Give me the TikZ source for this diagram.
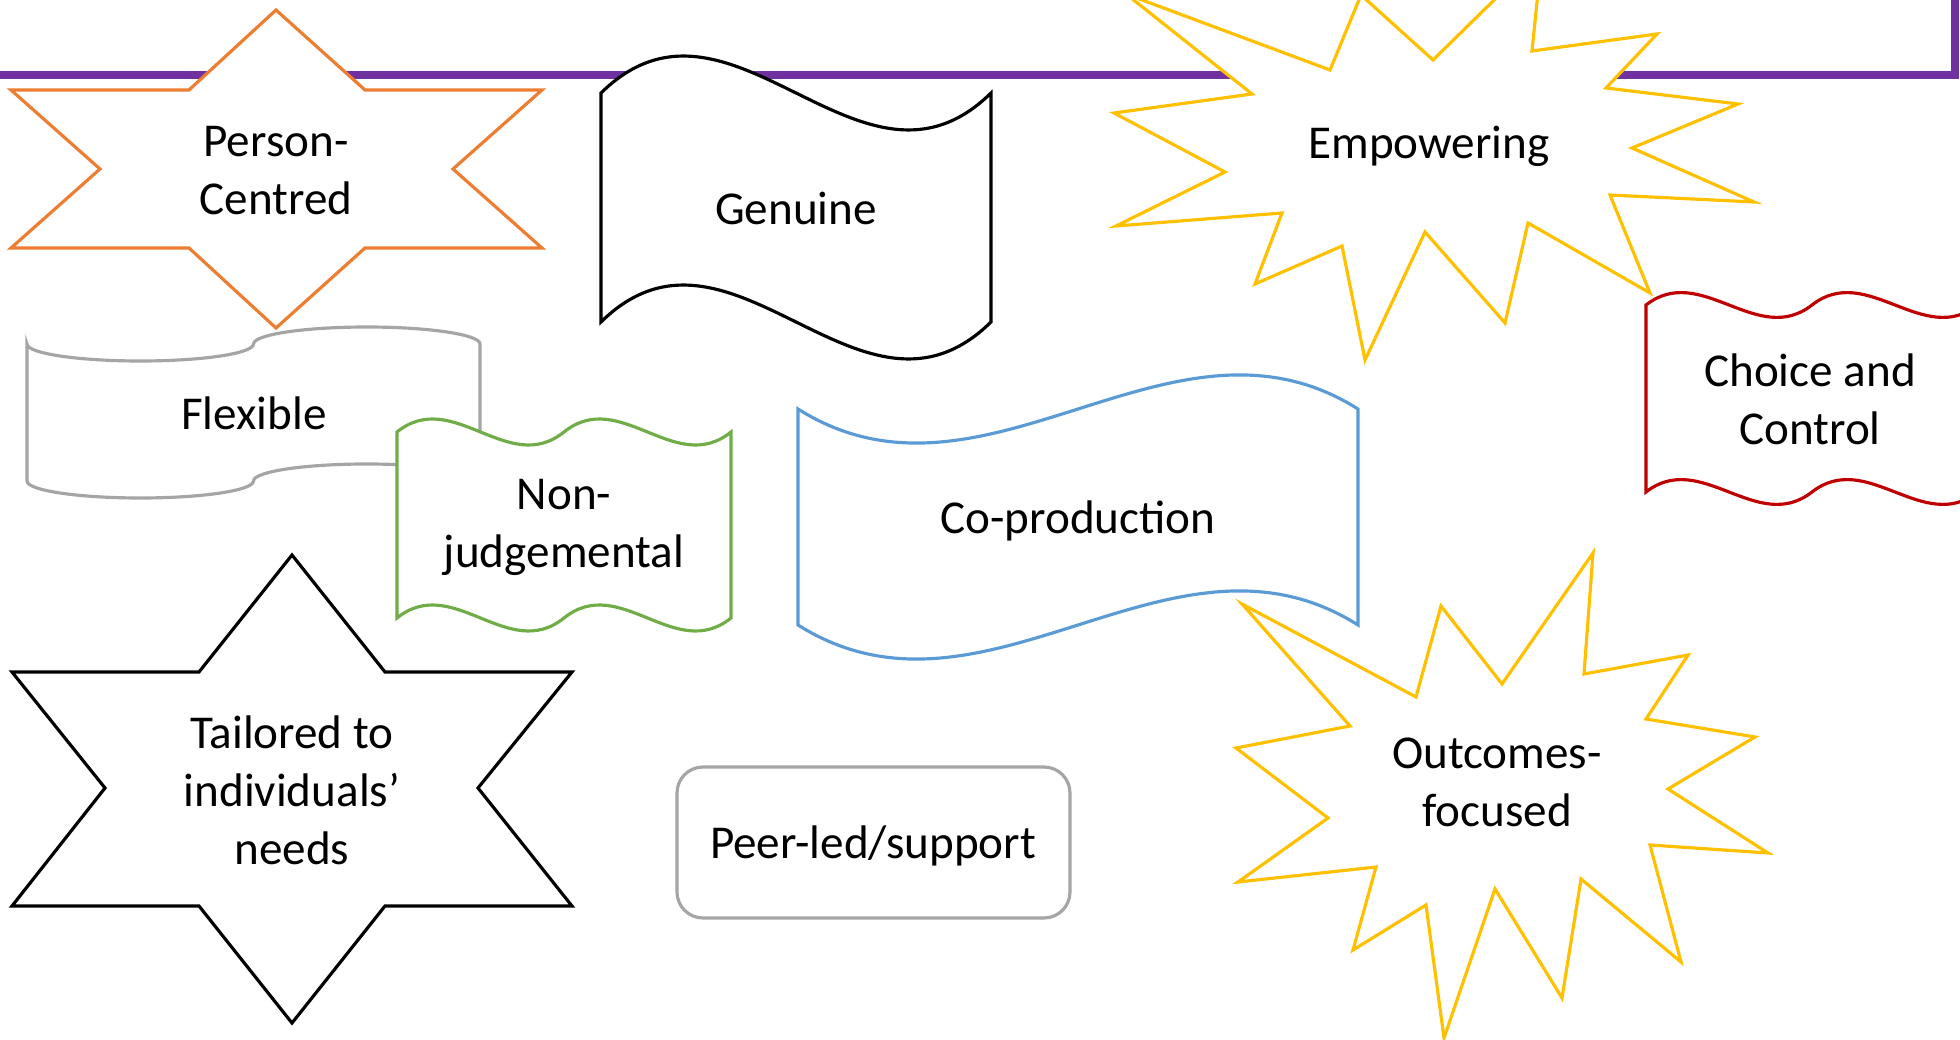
\documentclass[tikz,border=0pt]{standalone}
\usepackage{fontspec}
\setmainfont{Carlito}
\usepackage{tikz}
\definecolor{ppPurple}{HTML}{7030A0}
\definecolor{ppOrange}{HTML}{ED7D31}
\definecolor{ppYellow}{HTML}{FFC000}
\definecolor{ppRed}{HTML}{C00000}
\definecolor{ppGreen}{HTML}{70AD47}
\definecolor{ppBlue}{HTML}{5B9BD5}
\definecolor{ppGray}{HTML}{A5A5A5}
\tikzset{
  themeshape/.style={line width=0.9pt, fill=white},
  theme/.style={font=\fontsize{13.4}{16.5}\selectfont, align=center, inner sep=0pt},
}

\begin{document}
\begin{tikzpicture}[x=0.01cm, y=-0.01cm]
  \useasboundingbox (0,0) rectangle (1960,1040);
  % title frame
  \draw[ppPurple, line width=2.2pt] (-20,75) -- (1955,75) -- (1955,-20);
  % person-centred: 6-point star
  \draw[themeshape, draw=ppOrange] (276,10) -- (365,90) -- (542,90) -- (453,169) -- (542,248)
    -- (365,248) -- (276,328) -- (189,248) -- (11,248) -- (100,169) -- (11,90) -- (189,90) -- cycle;
  \node[theme] (person) at (276,171) {Person-\\Centred};
  % genuine: wave
  \draw[themeshape, draw=black] (601,93) .. controls (731,-35) and (861,221) .. (991,93)
    -- (991,322) .. controls (861,450) and (731,194) .. (601,322) -- cycle;
  \node[theme] (genuine) at (796,208) {Genuine};
  % empowering: explosion
  \draw[themeshape, draw=ppYellow] (1126,-6) -- (1330,70) -- (1361,-5) -- (1433,60) -- (1542,-47)
    -- (1532,51) -- (1657,34) -- (1606,88) -- (1738,104) -- (1632,148) -- (1754,202)
    -- (1610,195) -- (1650,293) -- (1528,223) -- (1505,323) -- (1425,232) -- (1365,360)
    -- (1342,246) -- (1255,284) -- (1282,213) -- (1116,226) -- (1225,172) -- (1114,113)
    -- (1252,94) -- cycle;
  \node[theme] (empower) at (1429,146) {Empowering};
  % choice and control: double wave
  \draw[themeshape, draw=ppRed] (1646,305) .. controls (1701,262) and (1757,348) .. (1812,305)
    .. controls (1867,262) and (1923,348) .. (1978,305) -- (1978,492)
    .. controls (1923,535) and (1867,449) .. (1812,492)
    .. controls (1757,535) and (1701,449) .. (1646,492) -- cycle;
  \node[theme] (choice) at (1810,399) {Choice and\\Control};
  % flexible: punched tape
  \draw[themeshape, draw=ppGray] (27,344) arc[start angle=180, end angle=0, x radius=113.25, y radius=17]
    arc[start angle=180, end angle=360, x radius=113.25, y radius=17] -- (480,481)
    arc[start angle=0, end angle=-180, x radius=113.25, y radius=17]
    arc[start angle=0, end angle=180, x radius=113.25, y radius=17] -- cycle;
  \node[theme] (flexible) at (254,413) {Flexible};
  % non-judgemental: double wave
  \draw[themeshape, draw=ppGreen] (397,432) .. controls (453,387) and (508,477) .. (564,432)
    .. controls (620,387) and (675,477) .. (731,432) -- (731,618)
    .. controls (675,663) and (620,573) .. (564,618)
    .. controls (508,663) and (453,573) .. (397,618) -- cycle;
  \node[theme] (nonjudge) at (564,527) {Non-\\judgemental};
  % co-production: wave
  \draw[themeshape, draw=ppBlue] (798,409) .. controls (985,527) and (1171,291) .. (1358,409)
    -- (1358,625) .. controls (1171,507) and (985,743) .. (798,625) -- cycle;
  \node[theme] (coprod) at (1078,521) {Co-production};
  % tailored: 6-point star
  \draw[themeshape, draw=black] (292,555) -- (385,672) -- (572,672) -- (478,788) -- (572,906)
    -- (385,906) -- (292,1023) -- (199,906) -- (12,906) -- (105,788) -- (12,672) -- (199,672) -- cycle;
  \node[theme] (tailored) at (292,790) {Tailored to\\individuals’\\needs};
  % peer-led: rounded box
  \draw[themeshape, draw=ppGray, rounded corners=0.26cm] (677,767) rectangle (1070,918);
  \node[theme] (peer) at (873,846) {Peer-led/support};
  % outcomes-focused: explosion
  \draw[themeshape, draw=ppYellow] (1242,604) -- (1416,697) -- (1441,606) -- (1502,684) -- (1593,553)
    -- (1584,674) -- (1688,655) -- (1646,719) -- (1755,737) -- (1668,789) -- (1768,853)
    -- (1650,845) -- (1681,962) -- (1581,879) -- (1562,998) -- (1495,889) -- (1444,1038)
    -- (1426,905) -- (1353,950) -- (1376,867) -- (1238,882) -- (1328,818) -- (1236,748)
    -- (1350,726) -- cycle;
  \node[theme] (outcomes) at (1497,782) {Outcomes-\\focused};
\end{tikzpicture}
\end{document}
